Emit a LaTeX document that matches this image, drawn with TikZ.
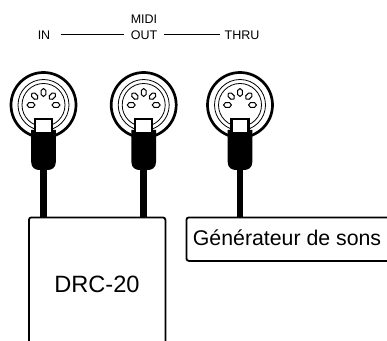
\documentclass[tikz,border=0pt]{standalone}
\usepackage{fontspec}
\setmainfont{Liberation Sans}
\newcommand{\drawMidiJack}[2]{
\draw [line width=2.7pt] (#1,235) circle (32.5);
\draw [line width=0.8pt] (#1,235) circle (25.5);
\draw [line width=0.8pt] (#1,235) circle (21.5);
\foreach \ang in {0,45,90,135,180} {
\draw [line width=1pt,rotate around={\ang:(#1,235)}] (#1+8.5,235) -- (#1+10.5,237.4) -- (#1+14.5,237.4) -- (#1+16.5,235) -- (#1+14.5,232.6) -- (#1+10.5,232.6) -- cycle;
}
\fill [black] (#1-12.3,210) -- (#1+12.3,210) -- (#1+12.3,178) .. controls (#1+12.3,172) and (#1+8,170) .. (#1+4,170) -- (#1-4,170) .. controls (#1-8,170) and (#1-12.3,172) .. (#1-12.3,178) -- cycle;
\draw [line width=2.4pt,fill=white] (#1-8.5,208) -- (#1-8.5,221) -- (#1+8.5,221) -- (#1+8.5,208);
\coordinate (#2) at (#1,172);
}
\tikzset{midilabel/.style={inner sep=0pt,text height=11.6pt,font=\fontsize{12.5}{14}\selectfont}}
\tikzset{midiline/.style={line width=0.9pt}}
\tikzset{unitbox/.style={draw,line width=1.8pt,rounded corners=2.5pt,anchor=north west,inner sep=0pt}}
\tikzset{midicable/.style={line width=6.5pt}}
\begin{document}
\begin{tikzpicture}[x=1pt,y=1pt]
\clip (0,0) rectangle (387,340);
\useasboundingbox (0,0) rectangle (387,340);
\fill [white] (0,0) rectangle (387,340);
\node [midilabel] (midi) at (144,321.8) {MIDI};
\node [midilabel] (in) at (44,306) {IN};
\node [midilabel] (out) at (144,306) {OUT};
\node [midilabel] (thru) at (242,306) {THRU};
\draw [midiline,shorten <=10.5pt,shorten >=7pt] (in) -- (out);
\draw [midiline,shorten <=7pt,shorten >=4pt] (out) -- (thru);
\drawMidiJack{43.5}{jackIn};
\drawMidiJack{143.7}{jackOut};
\drawMidiJack{240}{jackThru};
\node [unitbox,minimum width=136.5pt,minimum height=140pt] (drc) at (28,123.5) {};
\node [font=\fontsize{23.6}{26}\selectfont,inner sep=0pt] (drclabel) at (97,56) {DRC-20};
\node [unitbox,minimum width=230pt,minimum height=43.5pt] (gen) at (185.5,123.5) {};
\node [font=\fontsize{21.3}{24}\selectfont,inner sep=0pt,anchor=west] (genlabel) at (192.7,102) {Générateur de sons};
\draw [midicable] (jackIn) -- (jackIn |- drc.north);
\draw [midicable] (jackOut) -- (jackOut |- drc.north);
\draw [midicable] (jackThru) -- (jackThru |- gen.north);
\end{tikzpicture}
\end{document}
